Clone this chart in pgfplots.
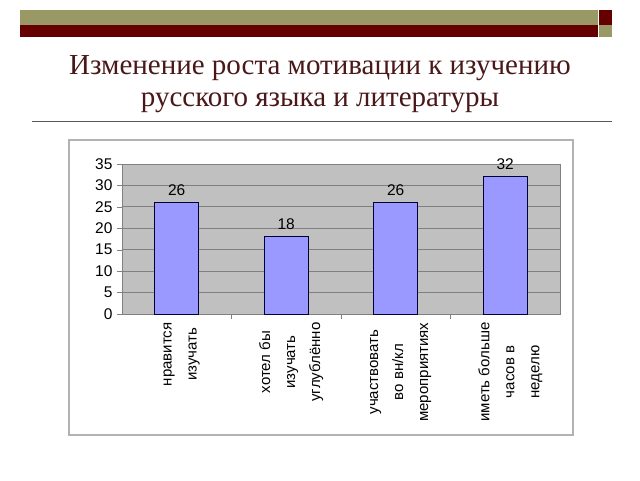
\documentclass[border=0pt]{standalone}
\usepackage{fontspec}
\setmainfont{Liberation Sans}
\newfontfamily\titlefont{Liberation Serif}
\usepackage{pgfplots}
\pgfplotsset{compat=1.18}
\definecolor{olivebar}{HTML}{999966}
\definecolor{darkredbar}{HTML}{660000}
\definecolor{titlecol}{HTML}{4A1818}
\definecolor{barfill}{HTML}{9999FF}
\definecolor{plotbg}{HTML}{C0C0C0}
\definecolor{gridcol}{HTML}{808080}
\begin{document}
\begin{tikzpicture}[x=1pt,y=1pt]
\path[use as bounding box, fill=white] (0,0) rectangle (640,480);
% decorative top bars
\fill[olivebar] (20,470) rectangle (598,455);
\fill[darkredbar] (20,455) rectangle (598,443);
\fill[darkredbar] (599,470) rectangle (612,455);
\fill[olivebar] (599,455) rectangle (612,443);
% title
\node[font=\titlefont\fontsize{29}{32}\selectfont, text=titlecol, align=center] at (320,396) {Изменение роста мотивации к изучению\\русского языка и литературы};
\draw[gray!70!black, line width=1pt] (32,358) -- (612,358);
% chart frame
\draw[gray!60, line width=1.5pt] (69,340) rectangle (573,45);
\begin{axis}[
  at={(122pt,166pt)}, anchor=south west,
  width=438pt, height=150pt, scale only axis,
  ymin=0, ymax=35, ytick={0,5,...,35},
  xmin=-0.5, xmax=3.5,
  xtick={0,1,2,3},
  xticklabels={{нравится\\изучать},{хотел бы\\изучать\\углублённо},{участвовать\\во вн/кл\\мероприятиях},{иметь больше\\часов в\\неделю}},
  minor xtick={0.5,1.5,2.5},
  major x tick style={draw=none},
  minor x tick style={draw=gridcol},
  tick align=outside,
  xtick pos=bottom, ytick pos=left,
  major tick length=5pt, minor tick length=5pt,
  axis line style={draw=gridcol},
  y tick style={draw=gridcol},
  axis background/.style={fill=plotbg},
  ymajorgrids, major grid style={draw=gridcol, line width=0.8pt},
  /pgf/number format/assume math mode=true,
  yticklabel style={font=\fontsize{15.5}{17}\selectfont, xshift=-1pt},
  xticklabel style={rotate=90, anchor=east, align=center, font=\fontsize{15}{25}\selectfont, yshift=-5pt},
  ybar, bar width=44pt,
  nodes near coords,
  nodes near coords style={font=\fontsize{15.5}{17}\selectfont, yshift=3pt},
]
\addplot[fill=barfill, draw=black!80!blue, line width=1pt] coordinates {(0,26) (1,18) (2,26) (3,32)};
\end{axis}
\end{tikzpicture}
\end{document}
